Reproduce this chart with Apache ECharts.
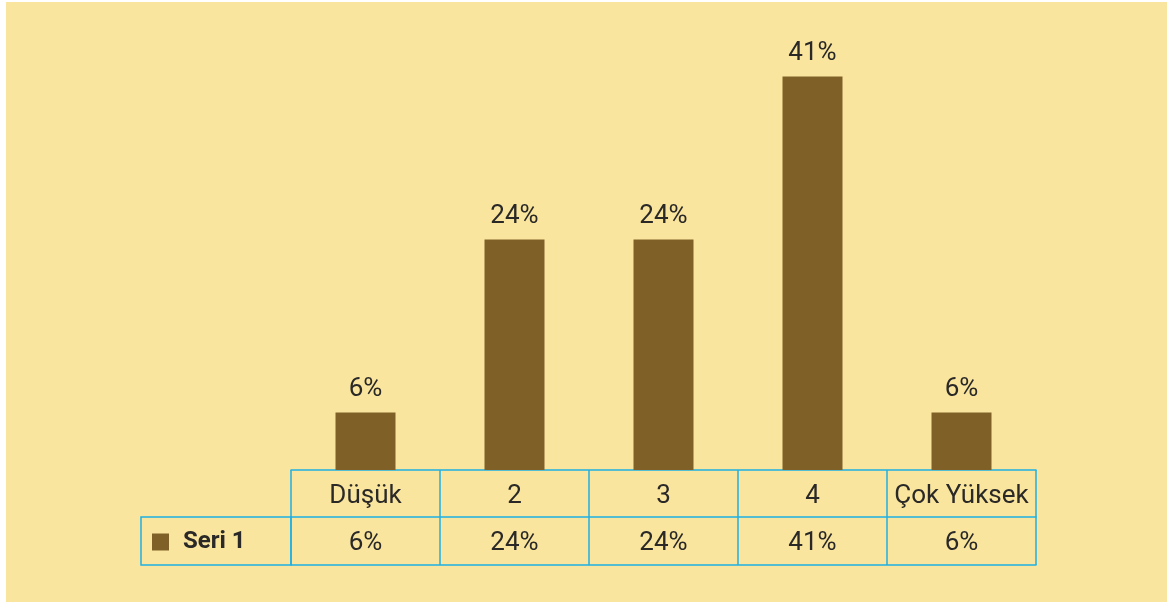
<!DOCTYPE html>
<html>
<head>
<meta charset="utf-8">
<script src="https://cdn.jsdelivr.net/npm/echarts@6/dist/echarts.min.js"></script>
<style>
  html, body { margin: 0; padding: 0; background: #ffffff; }
  #chart { position: absolute; left: 6px; top: 2px; width: 1161px; height: 600px; }
</style>
</head>
<body>
<div id="chart"></div>
<script>
// Categories, one series, table row text
const categories = ['Düşük', '2', '3', '4', 'Çok Yüksek'];
const seriesName = 'Seri 1';
const seri1 = [6, 24, 24, 41, 6];

const TEXT = '#2a2927';
const LINE = '#1fb0e4';
const BAR = '#7f6128';
const FONT = 'Roboto, "Noto Sans", sans-serif';

const chart = echarts.init(document.getElementById('chart'), null, { renderer: 'canvas' });

const option = {
  backgroundColor: '#fae59e',
  animation: false,
  textStyle: { fontFamily: FONT },
  grid: { left: 285, right: 131, top: 36, bottom: 132, containLabel: false },
  legend: {
    data: [seriesName],
    left: 141,
    top: 523,
    icon: 'rect',
    itemWidth: 17,
    itemHeight: 17,
    selectedMode: false,
    textStyle: {
      fontFamily: FONT, fontSize: 24, lineHeight: 24, fontWeight: 'bold', color: TEXT,
      padding: [0, 0, 0, 9]
    }
  },
  xAxis: [
    {
      // category header row of the data table
      type: 'category',
      data: categories,
      position: 'bottom',
      axisLine: { show: true, lineStyle: { color: LINE, width: 1.5 } },
      axisTick: { show: true, length: 95, lineStyle: { color: LINE, width: 1.5 } },
      axisLabel: { fontFamily: FONT, fontSize: 26, color: TEXT, margin: 13, interval: 0 }
    },
    {
      // values row of the data table
      type: 'category',
      data: categories,
      position: 'bottom',
      offset: 47,
      axisLine: { show: true, lineStyle: { color: LINE, width: 1.5 } },
      axisTick: { show: false },
      axisLabel: {
        fontFamily: FONT, fontSize: 26, color: TEXT, margin: 13, interval: 0,
        formatter: (v, i) => seri1[i] + '%'
      }
    },
    {
      // bottom border of the data table
      type: 'category',
      data: categories,
      position: 'bottom',
      offset: 95,
      axisLine: { show: true, lineStyle: { color: LINE, width: 1.5 } },
      axisTick: { show: false },
      axisLabel: { show: false }
    }
  ],
  yAxis: {
    type: 'value',
    min: 0,
    max: 45,
    show: false,
    splitLine: { show: false }
  },
  series: [
    {
      name: seriesName,
      type: 'bar',
      xAxisIndex: 0,
      data: seri1,
      barWidth: 60,
      itemStyle: { color: BAR },
      label: {
        show: true,
        position: 'top',
        distance: 10,
        fontFamily: FONT,
        fontSize: 26,
        color: TEXT,
        formatter: p => p.value + '%'
      }
    }
  ]
};

chart.setOption(option);

// Legend cell borders, placed left of the table rows
const x0 = chart.convertToPixel({ xAxisIndex: 0 }, 0) - 74.5;
chart.setOption({
  graphic: [
    {
      type: 'rect',
      silent: true,
      shape: { x: 135, y: 515, width: x0 - 135, height: 48 },
      style: { fill: null, stroke: LINE, lineWidth: 1.5 }
    }
  ]
});
</script>
</body>
</html>
